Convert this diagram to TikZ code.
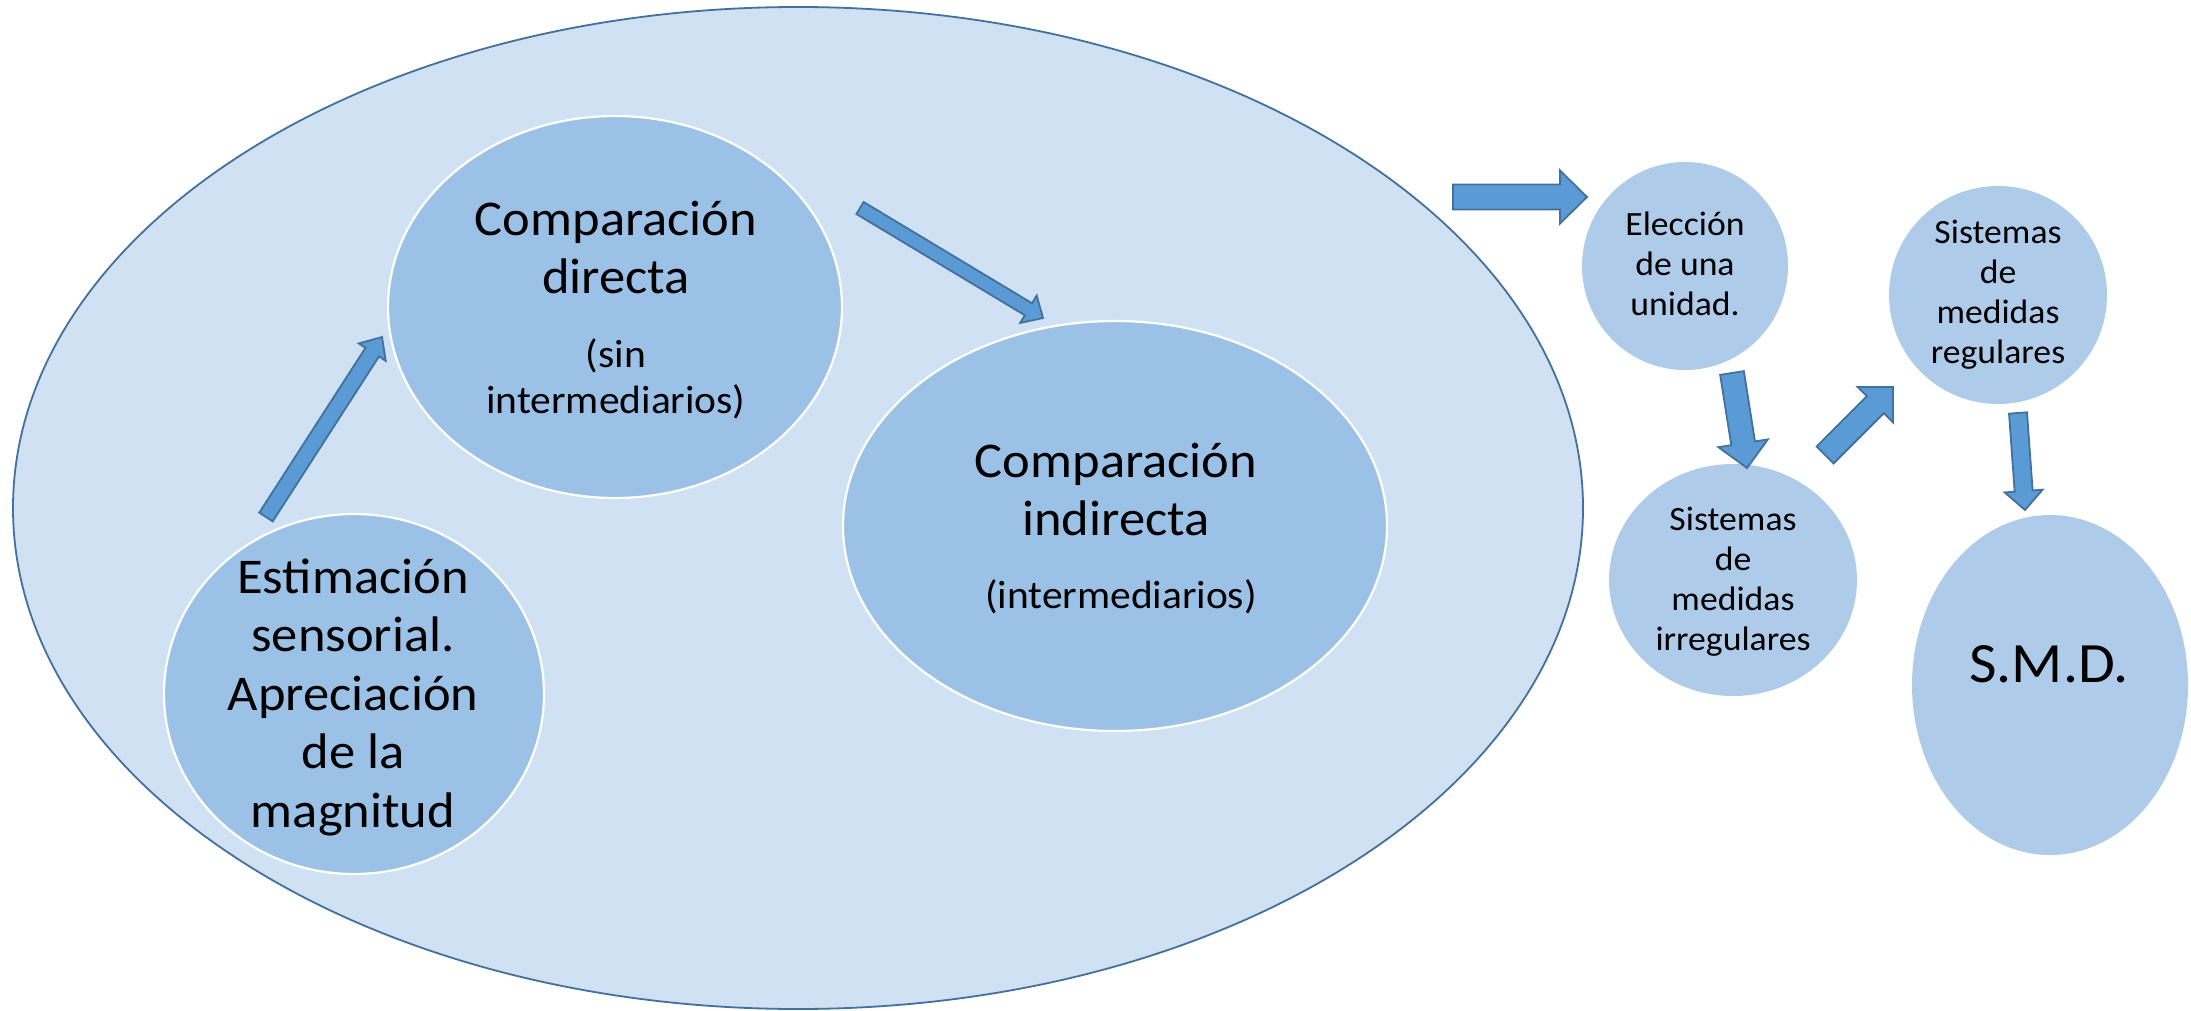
\documentclass[tikz,border=0pt]{standalone}
\usepackage{fontspec}
\setmainfont{Carlito}[FakeStretch=1.05]
\usetikzlibrary{shapes.geometric,calc}
\definecolor{bigfill}{RGB}{207,225,242}
\definecolor{bigline}{RGB}{65,113,156}
\definecolor{midfill}{RGB}{155,194,230}
\definecolor{rfill}{RGB}{174,204,233}
\definecolor{arrfill}{RGB}{91,155,213}
\definecolor{arrline}{RGB}{65,113,156}
\tikzset{
  bigell/.style={ellipse, draw=bigline, fill=bigfill, line width=1.8pt, inner sep=0pt},
  midell/.style={ellipse, draw=white, fill=midfill, line width=2.2pt, inner sep=0pt},
  rcirc/.style={ellipse, fill=rfill, inner sep=0pt},
  txtbase/.style={anchor=base, inner sep=0pt, align=flush center, text width=400pt},
  bigtxt/.style={txtbase, font=\fontsize{50}{58.5}\selectfont},
  subtxt/.style={txtbase, font=\fontsize{39.5}{46}\selectfont},
  smalltxt/.style={txtbase, font=\fontsize{34}{40}\selectfont},
  smdtxt/.style={txtbase, font=\fontsize{57}{60}\selectfont},
  arr/.style={fill=arrfill, draw=arrline, line width=1.8pt, line join=miter},
}
\newcommand\blockarrow[5]{%
  \coordinate (#1-hb) at ($(#2)!#5!(#1)$);
  \draw[arr] ($(#1)!#3!90:(#2)$) -- ($(#1-hb)!#3!90:(#2)$) -- ($(#1-hb)!#4!90:(#2)$) -- (#2)
    -- ($(#1-hb)!#4!-90:(#2)$) -- ($(#1-hb)!#3!-90:(#2)$) -- ($(#1)!#3!-90:(#2)$) -- cycle;
}
\begin{document}
\begin{tikzpicture}[x=1pt,y=-1pt]
\useasboundingbox (0,0) rectangle (2191,1011);
\fill[white] (0,0) rectangle (2191,1011);

% big ellipse and inner ellipses
\node[bigell, minimum width=1570pt, minimum height=1002pt] (outer) at (798,508) {};
\node[midell, minimum width=454pt, minimum height=382pt] (cdir) at (615,307) {};
\node[midell, minimum width=544pt, minimum height=410pt] (cind) at (1115,526) {};
\node[midell, minimum width=380pt, minimum height=360pt] (est) at (354,694) {};

% right circles
\node[rcirc, minimum width=206pt, minimum height=208pt] (elec) at (1685,266) {};
\node[rcirc, minimum width=248pt, minimum height=232pt] (irr) at (1733,580) {};
\node[rcirc, minimum width=218pt, minimum height=218pt] (reg) at (1998,295) {};
\node[rcirc, minimum width=276pt, minimum height=340pt] (smd) at (2050,685) {};

% texts
\node[bigtxt] (est-t) at (353,593) {Estimación\\sensorial.\\Apreciación\\de la\\magnitud};
\node[bigtxt] (cd-t) at (616,235) {Comparación\\directa};
\node[subtxt] (cd-s) at (616,367) {(sin\\intermediarios)};
\node[bigtxt] (ci-t) at (1116,477) {Comparación\\indirecta};
\node[subtxt] (ci-s) at (1121,608) {(intermediarios)};
\node[smalltxt] (elec-t) at (1685,235) {Elección\\de una\\unidad.};
\node[smalltxt] (irr-t) at (1733,530) {Sistemas\\de\\medidas\\irregulares};
\node[smalltxt] (reg-t) at (1998,243) {Sistemas\\de\\medidas\\regulares};
\node[smdtxt] (smd-t) at (2049,682) {S.M.D.};

% block arrows
\coordinate (a1s) at (266,517); \coordinate (a1e) at (382,337);
\coordinate (a2s) at (860,208); \coordinate (a2e) at (1043,318);
\coordinate (a3s) at (1453,197); \coordinate (a3e) at (1587,197);
\coordinate (a4s) at (1732,373); \coordinate (a4e) at (1747,468);
\coordinate (a5s) at (1825,455); \coordinate (a5e) at (1893,387);
\coordinate (a6s) at (2018,413); \coordinate (a6e) at (2025,510);
\blockarrow{a1s}{a1e}{8pt}{16pt}{18pt}
\blockarrow{a2s}{a2e}{7pt}{16pt}{17pt}
\blockarrow{a3s}{a3e}{12.5pt}{26.5pt}{27pt}
\blockarrow{a4s}{a4e}{12pt}{25pt}{25pt}
\blockarrow{a5s}{a5e}{12pt}{25pt}{25pt}
\blockarrow{a6s}{a6e}{9pt}{19pt}{19pt}
\end{tikzpicture}
\end{document}
